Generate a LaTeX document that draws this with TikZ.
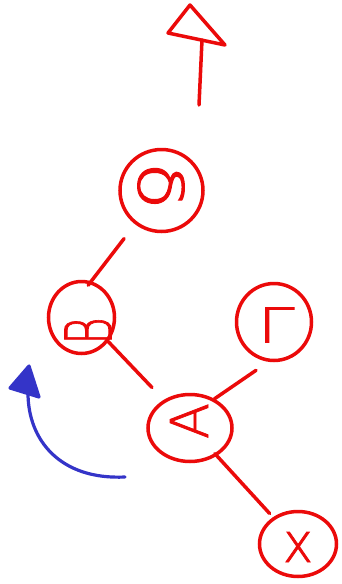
\documentclass[tikz,border=0pt]{standalone}
\usepackage{fontspec}
\usepackage{graphicx}
\newfontfamily\glyphfont[FakeBold=1.5]{DejaVu Sans ExtraLight}
\usetikzlibrary{shapes.geometric}
\definecolor{inkred}{RGB}{235,10,10}
\definecolor{inkblue}{RGB}{52,52,200}
\begin{document}
\begin{tikzpicture}[x=1pt,y=-1pt,
  bubble/.style={ellipse,draw=inkred,line width=3.5pt,inner sep=0pt},
  glyph/.style={text=inkred,inner sep=0pt,font=\glyphfont},
  link/.style={draw=inkred,line width=3.5pt,line cap=round,line join=round},
  bluelink/.style={draw=inkblue,line width=3.2pt,line cap=round,line join=round}]
\useasboundingbox (0,0) rectangle (342,584);
% circles
\node[bubble,minimum width=83pt,minimum height=82pt] (r) at (161.5,190.5) {};
\node[bubble,minimum width=66pt,minimum height=72pt] (b) at (81.5,317.5) {};
\node[bubble,minimum width=75pt,minimum height=77pt] (l) at (274,322) {};
\node[bubble,minimum width=84pt,minimum height=67pt] (a) at (190,428) {};
\node[bubble,minimum width=77pt,minimum height=65pt] (x) at (298,544) {};
% glyphs
\node[glyph] (rt) at (161,186) {\resizebox*{47pt}{47pt}{\rotatebox{-90}{δ}}};
\node[glyph] (bt) at (88,331) {\resizebox*{47pt}{27pt}{\rotatebox{90}{B}}};
\node[glyph] (lt) at (276,325) {\resizebox*{37pt}{35pt}{Γ}};
\node[glyph] (at) at (189,421) {\resizebox*{38pt}{36pt}{\rotatebox{90}{A}}};
\node[glyph] (xt) at (298,547) {\resizebox*{30pt}{30pt}{x}};
% links
\draw[link,shorten <=18pt,shorten >=-5pt] (r.232) -- (b.75);
\draw[link,shorten >=17pt] (b.318) -- (a.133);
\draw[link,shorten <=15pt] (l.262) -- (a.50);
\draw[link,shorten >=5pt,shorten <=-3pt] (a.314) -- (x.133);
% top arrow
\coordinate (s0) at (199,105);
\coordinate (s1) at (202,40);
\draw[link] (s0) -- (s1);
\draw[link] (168,33) -- (190,5) -- (225,45) -- cycle;
% blue arrow
\coordinate (b0) at (125,477);
\coordinate (b1) at (28,393);
\draw[bluelink] (b0) .. controls (60,480) and (28,440) .. (b1);
\draw[bluelink,fill=inkblue] (29,366) -- (10,388) -- (39,397) -- cycle;
\end{tikzpicture}
\end{document}
